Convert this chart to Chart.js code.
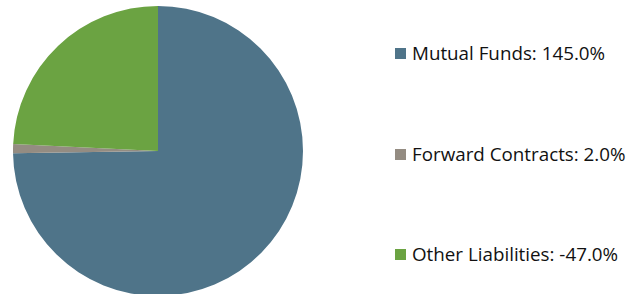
<!DOCTYPE html>
<html>
<head>
<meta charset="utf-8">
<script src="https://cdn.jsdelivr.net/npm/chart.js@4"></script>
<style>
    html, body { margin: 0; padding: 0; background: #fff; overflow: hidden; }
    #wrap { position: relative; width: 635px; height: 294px; }
    #pieBox { position: absolute; left: 13px; top: 6px; width: 290px; height: 290px; }
    #legend { position: absolute; left: 395px; top: 0; font-family: "Open Sans", Lato, sans-serif; font-size: 18.8px; color: #111; }
    .item { position: absolute; left: 0; display: flex; align-items: center; white-space: nowrap; }
    .box { width: 11px; height: 11px; margin-right: 6px; }
</style>
</head>
<body>
<div id="wrap">
    <div id="pieBox"><canvas id="pieChart"></canvas></div>
    <div id="legend"></div>
</div>
<script>
const categories = ['Mutual Funds', 'Forward Contracts', 'Other Liabilities'];
const percents = [145.0, 2.0, -47.0];
const sliceColors = ['#4f7489', '#948c82', '#6ba342'];
const legendRows = [53, 154, 254];

// Pie chart (Chart.js sizes slices by absolute value)
new Chart(document.getElementById('pieChart'), {
    type: 'pie',
    data: {
        labels: categories,
        datasets: [{
            data: percents,
            backgroundColor: sliceColors,
            borderWidth: 0,
            hoverOffset: 0
        }]
    },
    options: {
        responsive: true,
        maintainAspectRatio: false,
        animation: false,
        layout: { padding: 0 },
        plugins: {
            legend: { display: false },
            tooltip: { enabled: false }
        }
    }
});

// Legend on the right
const legend = document.getElementById('legend');
categories.forEach((name, i) => {
    const row = document.createElement('div');
    row.className = 'item';
    row.style.top = (legendRows[i] - 13) + 'px';
    row.style.height = '26px';
    row.innerHTML = `<div class="box" style="background:${sliceColors[i]}"></div><span>${name}: ${percents[i].toFixed(1)}%</span>`;
    legend.appendChild(row);
});
</script>
</body>
</html>
